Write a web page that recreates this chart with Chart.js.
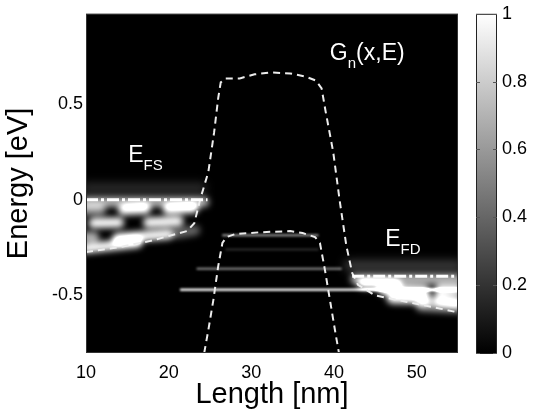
<!DOCTYPE html>
<html>
<head>
<meta charset="utf-8">
<script src="https://cdn.jsdelivr.net/npm/chart.js@4.4.1/dist/chart.umd.min.js"></script>
<style>
  html, body { margin: 0; padding: 0; background: #fff; }
  #wrap { width: 539px; height: 417px; }
</style>
</head>
<body>
<div id="wrap"><canvas id="myChart" width="539" height="417"></canvas></div>
<script>
// ticks
const xTicks = [10, 20, 30, 40, 50];
const yTicks = [-0.5, 0, 0.5];
const cbTicks = [0, 0.2, 0.4, 0.6, 0.8, 1];

// dashed band profiles (length nm / energy eV)
const upperX = [10, 14.1, 17.7, 22.2, 23.1, 23.8, 24.8, 25.5, 26.0, 26.3, 26.9, 28.6, 30.4, 32.3, 34.7, 36.5, 37.8, 38.5, 39.0, 39.9, 40.7, 41.5, 42.2, 42.9, 45.0, 48.0, 51.6, 55.0];
const upperE = [-0.273, -0.247, -0.216, -0.164, -0.123, 0.0, 0.145, 0.352, 0.533, 0.612, 0.633, 0.633, 0.654, 0.664, 0.659, 0.643, 0.622, 0.581, 0.457, 0.25, -0.009, -0.242, -0.382, -0.444, -0.5, -0.526, -0.557, -0.588];
const lowerX = [24.3, 24.8, 25.4, 26.0, 26.5, 27.0, 28.0, 31.0, 34.7, 36.2, 37.7, 38.3, 38.9, 39.6, 40.2, 40.6];
const lowerE = [-0.80, -0.68, -0.525, -0.345, -0.226, -0.195, -0.18, -0.17, -0.164, -0.174, -0.195, -0.226, -0.366, -0.547, -0.702, -0.80];

// fermi levels
const efsX = [10, 24.7];
const efsE = [0, 0];
const efdX = [42.2, 55];
const efdE = [-0.40, -0.40];

// Gn(x,E) streaks in the contacts: start, end, energy at start, energy at end, value
const blobX0 = [10, 10, 14.5, 19.9, 10.9, 17.5, 10, 13.8, 10, 21, 42.6, 43.5, 46.0, 52.8, 47.0, 52.5, 50.5];
const blobX1 = [24.3, 11.8, 17.2, 23.0, 14.0, 21.2, 11.0, 20.0, 16.2, 23.2, 55, 47.5, 51.0, 55, 51.2, 55, 55];
const blobE0 = [-0.012, -0.054, -0.054, -0.05, -0.122, -0.119, -0.195, -0.2, -0.254, -0.175, -0.415, -0.44, -0.47, -0.47, -0.515, -0.52, -0.555];
const blobE1 = [-0.012, -0.054, -0.049, -0.044, -0.119, -0.112, -0.195, -0.18, -0.225, -0.16, -0.415, -0.445, -0.475, -0.47, -0.52, -0.53, -0.565];
const blobG = [0.7, 0.6, 1.0, 1.0, 1.0, 1.0, 0.7, 1.0, 1.0, 0.4, 0.7, 0.8, 1.0, 1.0, 1.0, 1.0, 0.6];

// faint haze above the contact bands
const hazeX0 = [10, 41.8];
const hazeX1 = [24, 55];
const hazeE = [0.06, -0.345];
const hazeG = [0.18, 0.25];

// quasi-bound levels in the channel
const levelX0 = [26.6, 27, 23.5, 21.5];
const levelX1 = [38.0, 38, 40.8, 55];
const levelE = [-0.185, -0.26, -0.36, -0.47];
const levelG = [0.5, 0.15, 0.45, 0.95];

const FONT = '"Liberation Sans", Arial, Helvetica, sans-serif';

const datasets = [];

// streak datasets (drawn blurred, additive)
blobX0.forEach((x0, i) => {
    datasets.push({
        data: [{ x: x0, y: blobE0[i] }, { x: blobX1[i], y: blobE1[i] }],
        borderColor: 'rgba(255,255,255,' + blobG[i] + ')',
        borderWidth: 10, borderCapStyle: 'round', pointRadius: 0,
        glow: 3, order: 4
    });
});
hazeX0.forEach((x0, i) => {
    datasets.push({
        data: [{ x: x0, y: hazeE[i] }, { x: hazeX1[i], y: hazeE[i] }],
        borderColor: 'rgba(255,255,255,' + hazeG[i] + ')',
        borderWidth: 10, borderCapStyle: 'round', pointRadius: 0,
        glow: 5, order: 4
    });
});
levelX0.forEach((x0, i) => {
    datasets.push({
        data: [{ x: x0, y: levelE[i] }, { x: levelX1[i], y: levelE[i] }],
        borderColor: 'rgba(255,255,255,' + levelG[i] + ')',
        borderWidth: 2.5, borderCapStyle: 'round', pointRadius: 0,
        glow: 1, order: 3
    });
});

// band profiles
[[upperX, upperE], [lowerX, lowerE]].forEach(([xs, es]) => {
    datasets.push({
        data: xs.map((x, i) => ({ x: x, y: es[i] })),
        borderColor: '#ececec', borderWidth: 2, borderDash: [7, 5],
        pointRadius: 0, tension: 0, order: 2
    });
});

// fermi levels (dash-dot)
[[efsX, efsE], [efdX, efdE]].forEach(([xs, es]) => {
    datasets.push({
        data: xs.map((x, i) => ({ x: x, y: es[i] })),
        borderColor: '#ffffff', borderWidth: 3, borderDash: [12, 3, 3, 3],
        pointRadius: 0, order: 1
    });
});

const glowPlugin = {
    id: 'glow',
    beforeDatasetDraw(chart, args) {
        const ds = chart.data.datasets[args.index];
        const ctx = chart.ctx;
        ctx.save();
        if (ds.glow) {
            ctx.filter = 'blur(' + ds.glow + 'px)';
            ctx.globalCompositeOperation = 'lighter';
        }
    },
    afterDatasetDraw(chart) {
        chart.ctx.restore();
    }
};

const backPlugin = {
    id: 'back',
    beforeDatasetsDraw(chart) {
        const { ctx, chartArea: a } = chart;
        ctx.save();
        ctx.fillStyle = '#000';
        ctx.fillRect(a.left, a.top, a.right - a.left, a.bottom - a.top);
        ctx.restore();
    }
};

// colorbar + text labels
const decorPlugin = {
    id: 'decor',
    afterDraw(chart) {
        const { ctx, chartArea: a, scales } = chart;
        const cb = scales.cb;
        const x0 = a.right + 18, w = 21;
        const top = cb.getPixelForValue(1), bot = cb.getPixelForValue(0);
        ctx.save();
        const grad = ctx.createLinearGradient(0, bot, 0, top);
        grad.addColorStop(0, '#000');
        grad.addColorStop(1, '#fff');
        ctx.fillStyle = grad;
        ctx.fillRect(x0, top, w, bot - top);
        ctx.strokeStyle = '#222';
        ctx.lineWidth = 1;
        ctx.strokeRect(x0 + 0.5, top + 0.5, w - 1, bot - top);
        ctx.strokeStyle = '#555';
        cbTicks.forEach(v => {
            const y = Math.round(cb.getPixelForValue(v)) + 0.5;
            ctx.beginPath();
            ctx.moveTo(x0, y); ctx.lineTo(x0 + 4, y);
            ctx.moveTo(x0 + w, y); ctx.lineTo(x0 + w - 4, y);
            ctx.stroke();
        });

        // plot frame
        ctx.strokeStyle = '#333';
        ctx.strokeRect(a.left + 0.5, a.top + 0.5, a.right - a.left - 1, a.bottom - a.top - 1);

        // labels inside the plot
        const sx = scales.x, sy = scales.y;
        ctx.fillStyle = '#fff';
        ctx.textBaseline = 'alphabetic';
        const sub = (base, subTxt, rest, xv, ev) => {
            let px = sx.getPixelForValue(xv);
            const py = sy.getPixelForValue(ev);
            ctx.font = '23px ' + FONT;
            ctx.fillText(base, px, py);
            px += ctx.measureText(base).width;
            ctx.font = '15px ' + FONT;
            ctx.fillText(subTxt, px, py + 8);
            px += ctx.measureText(subTxt).width;
            if (rest) {
                ctx.font = '23px ' + FONT;
                ctx.fillText(rest, px, py);
            }
        };
        sub('G', 'n', '(x,E)', 39.5, 0.731);
        sub('E', 'FS', '', 15.1, 0.198);
        sub('E', 'FD', '', 46.2, -0.24);
        ctx.restore();
    }
};

new Chart(document.getElementById('myChart'), {
    type: 'line',
    data: { datasets: datasets },
    plugins: [backPlugin, glowPlugin, decorPlugin],
    options: {
        responsive: false,
        animation: false,
        layout: { padding: { left: 0, right: 0, top: 11, bottom: 0 } },
        plugins: { legend: { display: false }, tooltip: { enabled: false } },
        scales: {
            x: {
                type: 'linear', min: 10, max: 55,
                afterBuildTicks: s => { s.ticks = xTicks.map(v => ({ value: v })); },
                afterFit: s => { s.height = 64; },
                grid: { display: false },
                border: { display: false },
                ticks: { color: '#000', font: { size: 18, family: FONT }, padding: 1, maxRotation: 0 },
                title: { display: true, text: 'Length [nm]', color: '#000', font: { size: 29, family: FONT }, padding: { bottom: 5 } }
            },
            y: {
                type: 'linear', min: -0.8, max: 0.97,
                afterBuildTicks: s => { s.ticks = yTicks.map(v => ({ value: v })); },
                afterFit: s => { s.width = 86; },
                grid: { display: false, drawTicks: false },
                border: { display: false },
                ticks: { color: '#000', font: { size: 18, family: FONT }, padding: 3, callback: v => String(v) },
                title: { display: true, text: 'Energy [eV]', color: '#000', font: { size: 29, family: FONT }, padding: { top: 2 } }
            },
            cb: {
                type: 'linear', position: 'right', min: 0, max: 1,
                afterBuildTicks: s => { s.ticks = cbTicks.map(v => ({ value: v })); },
                afterFit: s => { s.width = 81; },
                grid: { display: true, drawOnChartArea: false, drawTicks: true, tickLength: 42, color: 'rgba(0,0,0,0)' },
                border: { display: false },
                ticks: { color: '#000', font: { size: 18, family: FONT }, padding: 2, callback: v => String(v) }
            }
        }
    }
});
</script>
</body>
</html>
